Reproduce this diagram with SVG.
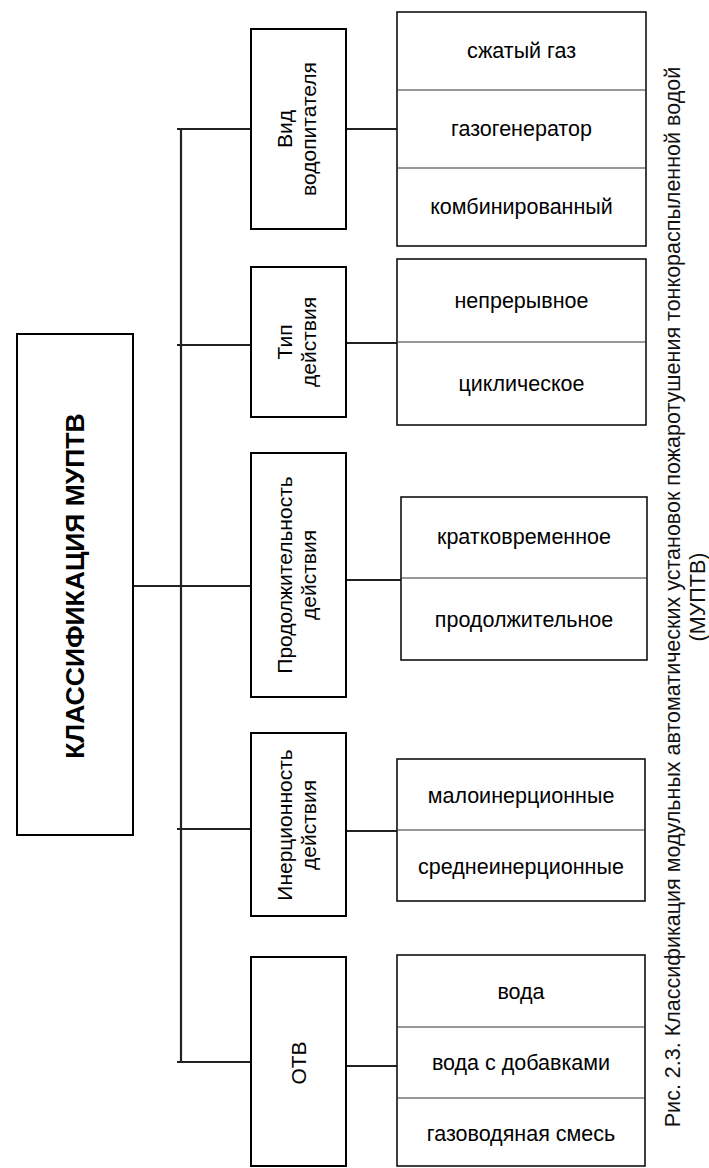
<svg xmlns="http://www.w3.org/2000/svg" width="709" height="1168" viewBox="0 0 709 1168">
<style>
.box{fill:#fff;stroke:#000;stroke-width:2}
.leaf{fill:#fff;stroke:#111;stroke-width:1.6}
.div{stroke:#333;stroke-width:1.2}
.con{stroke:#222;stroke-width:2.2;fill:none}
.ct{font-family:"Liberation Sans",Arial,sans-serif;font-size:21px;fill:#000;text-anchor:middle}
.lt{font-family:"Liberation Sans",Arial,sans-serif;font-size:21.5px;fill:#000;text-anchor:middle}
.mt{font-family:"Liberation Sans",Arial,sans-serif;font-size:26.5px;font-weight:bold;fill:#000;text-anchor:middle}
.cap{font-family:"Liberation Sans",Arial,sans-serif;font-size:21.5px;fill:#111;text-anchor:middle}
</style>
<rect width="709" height="1168" fill="#fff"/>
<g id="connectors">
<line class="con" x1="181" y1="128" x2="181" y2="1062"/>
<line class="con" x1="133" y1="586" x2="251" y2="586"/>
<line class="con" x1="177" y1="129" x2="251" y2="129"/>
<line class="con" x1="177" y1="345" x2="251" y2="345"/>
<line class="con" x1="177" y1="829" x2="251" y2="829"/>
<line class="con" x1="177" y1="1062" x2="251" y2="1062"/>
<line class="con" x1="346" y1="129" x2="397" y2="129"/>
<line class="con" x1="346" y1="343" x2="397" y2="343"/>
<line class="con" x1="346" y1="580" x2="401" y2="580"/>
<line class="con" x1="346" y1="831" x2="397" y2="831"/>
<line class="con" x1="346" y1="1066" x2="397" y2="1066"/>
</g>
<g id="main">
<rect class="box" x="17" y="334" width="116" height="501"/>
<text class="mt" transform="translate(84,586) rotate(-90)" x="0" y="0">КЛАССИФИКАЦИЯ МУПТВ</text>
</g>
<g id="cat-vid">
<rect class="box" x="251" y="29" width="95" height="200"/>
<text class="ct" transform="translate(298.5,129) rotate(-90)"><tspan x="0" y="-7">Вид</tspan><tspan x="0" y="17.5">водопитателя</tspan></text>
</g>
<g id="cat-tip">
<rect class="box" x="251" y="267" width="95" height="150"/>
<text class="ct" transform="translate(298.5,342) rotate(-90)"><tspan x="0" y="-7">Тип</tspan><tspan x="0" y="17.5">действия</tspan></text>
</g>
<g id="cat-prod">
<rect class="box" x="251" y="453" width="95" height="244"/>
<text class="ct" transform="translate(298.5,575) rotate(-90)"><tspan x="0" y="-7">Продолжительность</tspan><tspan x="0" y="17.5">действия</tspan></text>
</g>
<g id="cat-iner">
<rect class="box" x="251" y="733" width="95" height="183"/>
<text class="ct" transform="translate(298.5,825) rotate(-90)"><tspan x="0" y="-7">Инерционность</tspan><tspan x="0" y="17.5">действия</tspan></text>
</g>
<g id="cat-otv">
<rect class="box" x="251" y="957" width="95" height="209"/>
<text class="ct" transform="translate(306,1063) rotate(-90)" x="0" y="0">ОТВ</text>
</g>
<g id="leaf-vid">
<rect class="leaf" x="397" y="12" width="249" height="234"/>
<line class="div" x1="397" y1="90" x2="646" y2="90"/>
<line class="div" x1="397" y1="168" x2="646" y2="168"/>
<text class="lt" x="521.5" y="58">сжатый газ</text>
<text class="lt" x="521.5" y="136">газогенератор</text>
<text class="lt" x="521.5" y="214">комбинированный</text>
</g>
<g id="leaf-tip">
<rect class="leaf" x="397" y="259" width="249" height="166"/>
<line class="div" x1="397" y1="342" x2="646" y2="342"/>
<text class="lt" x="521.5" y="308">непрерывное</text>
<text class="lt" x="521.5" y="391">циклическое</text>
</g>
<g id="leaf-prod">
<rect class="leaf" x="401" y="497" width="246" height="163"/>
<line class="div" x1="401" y1="578" x2="647" y2="578"/>
<text class="lt" x="524" y="544">кратковременное</text>
<text class="lt" x="524" y="627">продолжительное</text>
</g>
<g id="leaf-iner">
<rect class="leaf" x="397" y="759" width="248" height="142"/>
<line class="div" x1="397" y1="830" x2="645" y2="830"/>
<text class="lt" x="521" y="803">малоинерционные</text>
<text class="lt" x="521" y="874">среднеинерционные</text>
</g>
<g id="leaf-otv">
<rect class="leaf" x="397" y="955" width="248" height="211"/>
<line class="div" x1="397" y1="1027" x2="645" y2="1027"/>
<line class="div" x1="397" y1="1098" x2="645" y2="1098"/>
<text class="lt" x="521" y="999">вода</text>
<text class="lt" x="521" y="1070">вода с добавками</text>
<text class="lt" x="521" y="1141">газоводяная смесь</text>
</g>
<g id="caption">
<text class="cap" transform="translate(0,597) rotate(-90)"><tspan x="0" y="680">Рис. 2.3. Классификация модульных автоматических установок пожаротушения тонкораспыленной водой</tspan><tspan x="0" y="705">(МУПТВ)</tspan></text>
</g>
</svg>
